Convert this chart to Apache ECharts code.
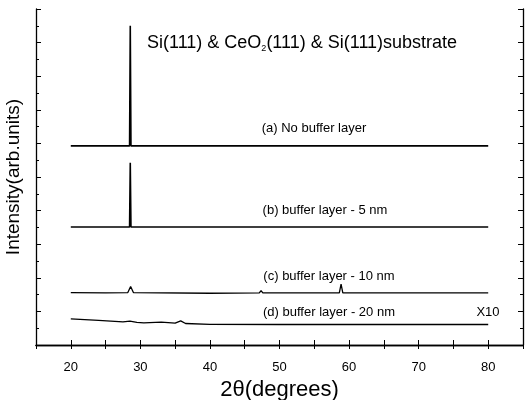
<!DOCTYPE html>
<html>
<head>
<meta charset="utf-8">
<title>XRD</title>
<script src="https://cdn.jsdelivr.net/npm/echarts@6/dist/echarts.min.js"></script>
<style>
  html, body { margin: 0; padding: 0; background: #fff; }
  #chart { width: 525px; height: 400px; }
</style>
</head>
<body>
<div id="chart"></div>
<script>
// 2theta positions and intensities (arb. units, stacked offsets)
var thetaA = [20, 28.45, 28.55, 28.65, 80];
var intA   = [11.85, 11.85, 19.0, 11.85, 11.85];

var thetaB = [20, 28.45, 28.55, 28.65, 80];
var intB   = [7.02, 7.02, 10.85, 7.02, 7.02];

var thetaC = [20, 25, 28.2, 28.6, 29.0, 40, 47.1, 47.35, 47.6, 58.6, 58.85, 59.1, 80];
var intC   = [3.12, 3.1, 3.12, 3.48, 3.12, 3.08, 3.1, 3.24, 3.1, 3.1, 3.62, 3.1, 3.1];

var thetaD = [20, 24, 27.5, 28.5, 29.5, 30.5, 33, 35, 35.8, 36.5, 40, 50, 80];
var intD   = [1.55, 1.47, 1.38, 1.42, 1.35, 1.32, 1.36, 1.30, 1.44, 1.28, 1.23, 1.22, 1.22];

var xTicks = [20, 30, 40, 50, 60, 70, 80];

function pairs(xs, ys) {
  return xs.map(function (x, i) { return [x, ys[i]]; });
}

var myChart = echarts.init(document.getElementById('chart'));

var font = '"Liberation Sans", Arial, sans-serif';

var series = [
  { data: pairs(thetaA, intA), w: 1.6 },
  { data: pairs(thetaB, intB), w: 1.6 },
  { data: pairs(thetaC, intC), w: 1.3 },
  { data: pairs(thetaD, intD), w: 1.3 }
].map(function (s) {
  return {
    type: 'line',
    data: s.data,
    showSymbol: false,
    lineStyle: { color: '#000', width: s.w },
    animation: false
  };
});

var labels = [
  { x: 314, y: 128, t: '(a) No buffer layer' },
  { x: 325, y: 210, t: '(b) buffer layer - 5 nm' },
  { x: 329, y: 276, t: '(c) buffer layer - 10 nm' },
  { x: 329, y: 312, t: '(d) buffer layer - 20 nm' },
  { x: 488, y: 312, t: 'X10' }
];

var axisLine = { show: true, lineStyle: { color: '#000', width: 1.3 } };

myChart.setOption({
  backgroundColor: '#fff',
  animation: false,
  grid: { left: 36, right: 2, top: 9, bottom: 55, containLabel: false, outerBoundsMode: 'none' },
  xAxis: [{
    type: 'value', min: 15, max: 85, interval: 5,
    axisLine: axisLine,
    axisTick: { inside: true, length: 5, lineStyle: { color: '#000' } },
    axisLabel: {
      color: '#000', fontSize: 13, fontFamily: font, margin: 16,
      formatter: function (v) { return xTicks.indexOf(v) >= 0 ? String(v) : ''; }
    },
    splitLine: { show: false },
    name: '2θ(degrees)', nameLocation: 'middle', nameGap: 30,
    nameTextStyle: { color: '#000', fontSize: 22, fontFamily: font }
  }, {
    type: 'value', min: 15, max: 85, interval: 5, position: 'top',
    axisLine: axisLine,
    axisTick: { inside: true, length: 4, lineStyle: { color: '#000' } },
    axisLabel: { show: false }, splitLine: { show: false }
  }],
  yAxis: [{
    type: 'value', min: 0, max: 20, interval: 2,
    axisLine: axisLine,
    axisTick: { show: true, inside: true, length: 5, lineStyle: { color: '#000' } },
    minorTick: { show: true, splitNumber: 2, length: 3, lineStyle: { color: '#000' } },
    axisLabel: { show: false }, splitLine: { show: false },
    name: 'Intensity(arb.units)', nameLocation: 'middle', nameGap: 13,
    nameTextStyle: { color: '#000', fontSize: 19, fontFamily: font }
  }, {
    type: 'value', min: 0, max: 20, interval: 2, position: 'right',
    axisLine: axisLine,
    axisTick: { show: true, inside: true, length: 5, lineStyle: { color: '#000' } },
    minorTick: { show: true, splitNumber: 2, length: 3, lineStyle: { color: '#000' } },
    axisLabel: { show: false }, splitLine: { show: false }
  }],
  series: series,
  graphic: [{
    type: 'text', left: 147, top: 34,
    style: {
      text: 'Si(111) & CeO{sub|2}(111) & Si(111)substrate',
      fill: '#000', font: '18px ' + font,
      rich: { sub: { fontSize: 9, fontFamily: font, verticalAlign: 'bottom', padding: [11, 0, 0, 0] } }
    }
  }].concat(labels.map(function (l) {
    return {
      type: 'text', x: l.x, y: l.y,
      style: { text: l.t, fill: '#000', font: '13px ' + font, textAlign: 'center', textVerticalAlign: 'middle' }
    };
  }))
});
</script>
</body>
</html>
